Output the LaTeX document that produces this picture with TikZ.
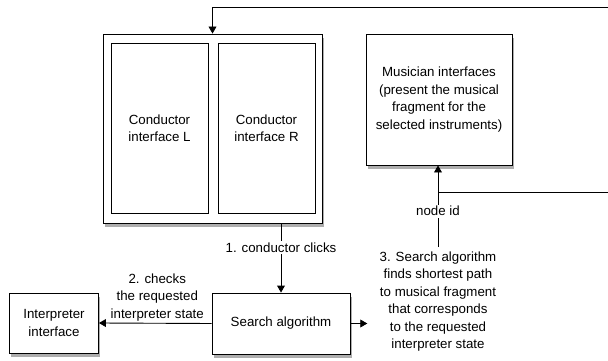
\documentclass[tikz,border=0pt]{standalone}
\usepackage{fontspec}
\setmainfont{Liberation Sans}
\usetikzlibrary{arrows,shadows}

\begin{document}
\begin{tikzpicture}[>=triangle 60, x=1pt, y=-1pt, line width=0.9pt]
			\tikzstyle{every node} = [font=\fontsize{13.3}{17.5}\selectfont, align=center];
			\tikzstyle{box} = [draw=black, fill=white, inner sep=0pt, drop shadow={shadow xshift=1.5pt, shadow yshift=-4pt, fill=black!45, opacity=0.7}];
			\tikzstyle{panel} = [draw=black, fill=white, inner sep=0pt, minimum width=97pt, minimum height=170pt];
			\tikzstyle{lbl} = [fill=white, inner sep=1.5pt];
			\useasboundingbox (0,0) rectangle (608,361);
			\node[box, minimum width=219pt, minimum height=189pt] (conductor) at (212.5, 128.5) {};
			\node[panel] (condL) at (159.5, 128) {Conductor\\interface L};
			\node[panel] (condR) at (266.5, 128) {Conductor\\interface R};
			\node[box, minimum width=146pt, minimum height=131pt] (musician) at (439, 99.5) {Musician interfaces\\(present the musical\\fragment for the\\selected instruments)};
			\node[box, minimum width=138pt, minimum height=61pt] (search) at (281, 323.5) {Search algorithm};
			\node[box, minimum width=89pt, minimum height=60pt] (interp) at (54, 323) {Interpreter\\interface};
			\node[inner xsep=12pt, inner ysep=4pt] (result) at (438, 301.5) {3. Search algorithm\\finds shortest path\\to musical fragment\\that corresponds\\to the requested\\interpreter state};
			\coordinate (topright) at (608, 7);
			\coordinate (sideright) at (608, 192);
			\draw[->] (topright) -| (conductor.north);
			\draw (sideright) -- (sideright -| result);
			\draw[->] (search |- conductor.south) -- (search.north) node[lbl, pos=0.35] {1. conductor clicks};
			\draw[->] (search.west) -- (interp.east) node[midway, above, inner sep=2pt, xshift=2pt] {2. checks\\the requested\\interpreter state};
			\draw[->] (search.east) -- (search.east -| result.west);
			\draw[->] (result.north) -- (result |- musician.south) node[lbl, pos=0.44] {node id};
		\end{tikzpicture}
\end{document}
